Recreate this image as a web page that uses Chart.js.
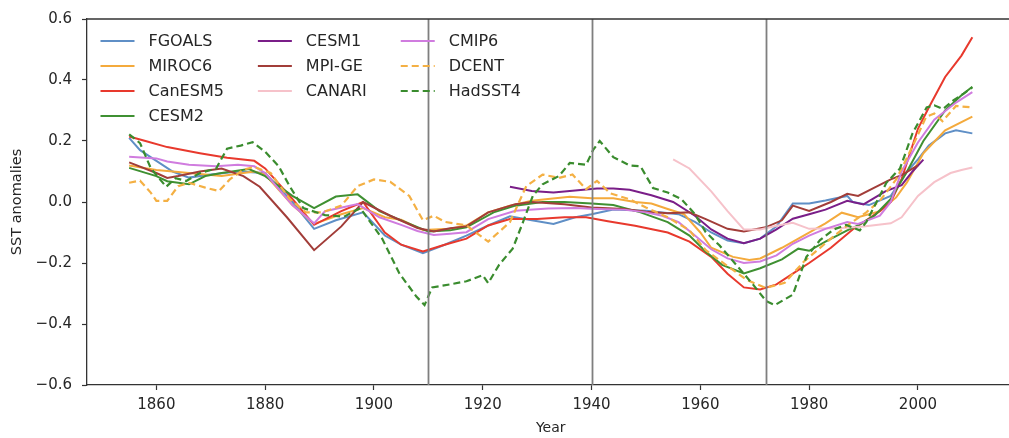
<!DOCTYPE html>
<html>
<head>
<meta charset="utf-8">
<script src="https://cdn.jsdelivr.net/npm/chart.js@4/dist/chart.umd.min.js"></script>
<style>
  html, body { margin: 0; padding: 0; background: #ffffff; overflow: hidden; }
  #wrap { position: absolute; left: 0; top: 0; width: 1020px; height: 438px; }
</style>
</head>
<body>
<div id="wrap"><canvas id="chart"></canvas></div>
<script>
// ---- SST anomaly series (year, anomaly) ----
const yearsFGOALS = [1855,1857,1860,1863,1866,1870,1875,1880,1885,1889,1893,1898,1902,1905,1909,1913,1917,1921,1925,1929,1933,1937,1940,1944,1950,1956,1959,1962,1965,1968,1971,1974,1977,1980,1983,1987,1988,1991,1995,1998,2000,2002,2005,2007,2010];
const sstFGOALS = [0.21,0.17,0.135,0.1,0.08,0.09,0.1,0.095,0.0,-0.088,-0.06,-0.034,-0.11,-0.14,-0.168,-0.14,-0.11,-0.077,-0.047,-0.06,-0.072,-0.05,-0.04,-0.025,-0.029,-0.04,-0.065,-0.1,-0.126,-0.135,-0.12,-0.08,-0.005,-0.005,0.005,0.02,0.0,-0.01,0.02,0.1,0.14,0.185,0.225,0.235,0.225];

const yearsMIROC6 = [1855,1860,1866,1872,1878,1880,1885,1889,1894,1898,1902,1905,1909,1914,1917,1921,1925,1929,1932,1936,1940,1944,1948,1951,1954,1957,1960,1962,1966,1969,1971,1975,1979,1983,1986,1989,1993,1996,1998,2001,2005,2010];
const sstMIROC6 = [0.12,0.105,0.095,0.085,0.1,0.09,-0.01,-0.072,-0.04,-0.02,-0.05,-0.058,-0.092,-0.088,-0.077,-0.034,-0.012,0.004,0.01,0.017,0.012,0.012,0.0,-0.005,-0.023,-0.04,-0.1,-0.15,-0.18,-0.19,-0.185,-0.15,-0.11,-0.07,-0.035,-0.05,-0.03,0.015,0.065,0.16,0.235,0.28];

const yearsCanESM5 = [1855,1858,1862,1868,1873,1878,1880,1885,1889,1894,1898,1902,1905,1909,1913,1917,1921,1925,1930,1935,1939,1943,1948,1954,1958,1962,1965,1968,1971,1974,1977,1980,1984,1988,1993,1995,1997,2000,2002,2005,2008,2010];
const sstCanESM5 = [0.215,0.2,0.18,0.16,0.145,0.135,0.11,0.01,-0.075,-0.03,0.0,-0.1,-0.14,-0.162,-0.14,-0.12,-0.077,-0.056,-0.056,-0.05,-0.05,-0.063,-0.078,-0.1,-0.13,-0.18,-0.235,-0.28,-0.287,-0.27,-0.235,-0.2,-0.15,-0.09,-0.03,0.0,0.075,0.24,0.31,0.41,0.48,0.54];

const yearsCESM2 = [1855,1860,1862,1866,1869,1872,1877,1880,1885,1889,1893,1897,1901,1905,1910,1914,1917,1922,1926,1931,1935,1940,1944,1949,1954,1958,1961,1964,1968,1971,1975,1978,1980,1983,1987,1989,1992,1995,1998,2001,2005,2008,2010];
const sstCESM2 = [0.112,0.085,0.068,0.058,0.085,0.095,0.108,0.085,0.02,-0.02,0.018,0.025,-0.03,-0.06,-0.097,-0.093,-0.083,-0.034,-0.012,0.0,0.0,-0.005,-0.01,-0.034,-0.066,-0.11,-0.163,-0.206,-0.234,-0.217,-0.188,-0.153,-0.16,-0.13,-0.093,-0.077,-0.045,0.01,0.1,0.2,0.3,0.35,0.378];

const yearsCESM1 = [1925,1929,1933,1937,1941,1944,1947,1951,1955,1959,1962,1965,1968,1971,1974,1977,1980,1983,1987,1990,1994,1997,1999,2001];
const sstCESM1 = [0.05,0.036,0.031,0.038,0.044,0.044,0.04,0.022,0.0,-0.045,-0.09,-0.12,-0.135,-0.12,-0.09,-0.055,-0.04,-0.025,0.004,-0.008,0.035,0.055,0.1,0.139];

const yearsMPIGE = [1855,1860,1862,1864,1868,1872,1876,1879,1884,1889,1894,1898,1903,1908,1911,1914,1917,1921,1926,1929,1935,1940,1946,1950,1954,1958,1961,1965,1968,1972,1975,1977,1980,1984,1987,1989,1992,1995,1997,2000];
const sstMPIGE = [0.13,0.095,0.079,0.085,0.1,0.11,0.085,0.05,-0.05,-0.158,-0.08,0.0,-0.045,-0.085,-0.097,-0.086,-0.08,-0.034,-0.007,0.0,-0.007,-0.018,-0.023,-0.032,-0.037,-0.034,-0.056,-0.088,-0.097,-0.083,-0.06,-0.012,-0.029,0.0,0.027,0.02,0.047,0.074,0.088,0.12];

const yearsCANARI = [1955,1958,1962,1965,1968,1971,1974,1977,1980,1986,1990,1995,1997,2000,2003,2006,2008,2010];
const sstCANARI = [0.14,0.11,0.035,-0.03,-0.09,-0.09,-0.078,-0.068,-0.088,-0.085,-0.08,-0.07,-0.05,0.02,0.065,0.095,0.105,0.113];

const yearsCMIP6 = [1855,1860,1862,1866,1871,1875,1878,1880,1885,1889,1891,1897,1901,1905,1908,1911,1914,1917,1921,1926,1932,1937,1941,1946,1950,1953,1956,1959,1962,1965,1968,1971,1974,1977,1980,1983,1987,1989,1993,1995,1997,2000,2003,2007,2010];
const sstCMIP6 = [0.148,0.143,0.133,0.122,0.117,0.122,0.117,0.095,-0.01,-0.07,-0.03,-0.007,-0.05,-0.075,-0.095,-0.108,-0.104,-0.099,-0.056,-0.029,-0.021,-0.02,-0.023,-0.025,-0.034,-0.045,-0.066,-0.11,-0.155,-0.185,-0.2,-0.195,-0.175,-0.137,-0.11,-0.088,-0.066,-0.072,-0.045,0.0,0.1,0.195,0.27,0.326,0.36];

const yearsDCENT = [1855,1857,1859,1860,1862,1864,1866,1869,1871.5,1873.5,1876,1878,1881,1884.5,1887.5,1890.5,1894,1897,1900,1903,1906.5,1909,1911,1913,1917,1921,1925,1928,1931,1934,1936.5,1939,1941,1943.5,1947,1950,1954,1958,1961,1965,1968.5,1972,1975.5,1979,1984,1987,1990.5,1993,1996,1999,2001.5,2003,2004.5,2007,2010];
const sstDCENT = [0.063,0.07,0.03,0.004,0.004,0.052,0.063,0.047,0.036,0.074,0.106,0.115,0.095,0.01,-0.034,-0.034,-0.012,0.052,0.074,0.066,0.02,-0.06,-0.045,-0.065,-0.077,-0.13,-0.066,0.052,0.09,0.079,0.09,0.042,0.069,0.028,0.009,-0.018,-0.05,-0.093,-0.158,-0.21,-0.255,-0.282,-0.265,-0.196,-0.12,-0.077,-0.034,0.004,0.074,0.182,0.279,0.29,0.265,0.315,0.31];

const yearsHadSST4 = [1855,1857,1859,1861.8,1863.5,1865.5,1868,1871,1873,1875.5,1877.7,1880,1882.5,1884.5,1887,1891,1894.5,1897.5,1901.5,1904.7,1907.8,1909.3,1910.7,1914,1917,1920,1921,1923,1925.5,1927.4,1929.2,1931,1934,1936,1939,1940.3,1941.5,1944,1947,1949,1951.3,1954,1956.5,1959,1961,1963.5,1966.6,1969.7,1972.1,1973.7,1977,1979.5,1982,1984.5,1986.8,1989.3,1990.5,1992.4,1994.2,1996.7,1999,2001.6,2003,2004.6,2006.5,2008.3,2010];
const sstHadSST4 = [0.222,0.193,0.11,0.05,0.078,0.069,0.095,0.11,0.175,0.185,0.196,0.165,0.117,0.052,-0.02,-0.043,-0.048,-0.02,-0.12,-0.235,-0.31,-0.338,-0.28,-0.27,-0.26,-0.24,-0.266,-0.206,-0.153,-0.066,0.02,0.058,0.085,0.128,0.122,0.171,0.2,0.147,0.12,0.117,0.046,0.031,0.01,-0.04,-0.099,-0.142,-0.206,-0.271,-0.325,-0.338,-0.304,-0.18,-0.125,-0.09,-0.075,-0.093,-0.066,0.0,0.063,0.11,0.225,0.31,0.317,0.305,0.333,0.354,0.376];

// ---- axes ----
const xTickYears = [1860, 1880, 1900, 1920, 1940, 1960, 1980, 2000];
const yTickValues = [-0.6, -0.4, -0.2, 0.0, 0.2, 0.4, 0.6];
const markerYears = [1910, 1940, 1972];

// ---- series styling ----
const seriesDefs = [
  { label: 'FGOALS',  years: yearsFGOALS,  values: sstFGOALS,  color: '#5f8fc6', dash: [] },
  { label: 'MIROC6',  years: yearsMIROC6,  values: sstMIROC6,  color: '#f4aa3c', dash: [] },
  { label: 'CanESM5', years: yearsCanESM5, values: sstCanESM5, color: '#e8392d', dash: [] },
  { label: 'CESM2',   years: yearsCESM2,   values: sstCESM2,   color: '#3f9032', dash: [] },
  { label: 'CESM1',   years: yearsCESM1,   values: sstCESM1,   color: '#7a1e88', dash: [] },
  { label: 'MPI-GE',  years: yearsMPIGE,   values: sstMPIGE,   color: '#a23d39', dash: [] },
  { label: 'CANARI',  years: yearsCANARI,  values: sstCANARI,  color: '#f6c2ca', dash: [] },
  { label: 'CMIP6',   years: yearsCMIP6,   values: sstCMIP6,   color: '#d07cdf', dash: [] },
  { label: 'DCENT',   years: yearsDCENT,   values: sstDCENT,   color: '#f4b044', dash: [7, 4] },
  { label: 'HadSST4', years: yearsHadSST4, values: sstHadSST4, color: '#3a8c2e', dash: [7, 4] }
];

const datasets = seriesDefs.map((s, i) => ({
  label: s.label,
  data: s.years.map((yr, k) => ({ x: yr, y: s.values[k] })),
  borderColor: s.color,
  backgroundColor: s.color,
  borderWidth: s.dash.length ? 2.2 : 2,
  borderDash: s.dash,
  pointRadius: 0,
  tension: 0,
  fill: false,
  order: seriesDefs.length - i
}));

const TEXT = '#262626';
const FONT = 'DejaVu Sans';

// vertical reference lines and the plot frame
const markerPlugin = {
  id: 'markerLines',
  afterDatasetsDraw(chart) {
    const { ctx, chartArea: a, scales: { x } } = chart;
    ctx.save();
    ctx.strokeStyle = '#7f7f7f';
    ctx.lineWidth = 1.8;
    markerYears.forEach(yr => {
      const px = Math.round(x.getPixelForValue(yr)) + 0.5;
      ctx.beginPath();
      ctx.moveTo(px, a.top);
      ctx.lineTo(px, a.bottom);
      ctx.stroke();
    });
    ctx.strokeStyle = '#333333';
    ctx.lineWidth = 1.3;
    ctx.beginPath();
    ctx.moveTo(a.left, a.top);
    ctx.lineTo(a.right, a.top);
    ctx.lineTo(a.right, a.bottom);
    ctx.stroke();
    ctx.restore();
  }
};

// in-plot legend: three columns, filled column by column
const legendPlugin = {
  id: 'inPlotLegend',
  afterDraw(chart) {
    const { ctx, chartArea: a } = chart;
    const fontSize = 16;
    const handle = 34, pad = 14, colGap = 34, rowH = 25;
    const rowsPerCol = [4, 3, 3];
    ctx.save();
    ctx.font = fontSize + 'px "' + FONT + '"';
    ctx.textBaseline = 'middle';
    let idx = 0;
    let colX = a.left + 13.5;
    rowsPerCol.forEach(n => {
      let maxW = 0;
      for (let r = 0; r < n; r++) {
        const ds = chart.data.datasets[idx + r];
        maxW = Math.max(maxW, ctx.measureText(ds.label).width);
      }
      for (let r = 0; r < n; r++) {
        const ds = chart.data.datasets[idx + r];
        const y = a.top + 22 + r * rowH;
        ctx.strokeStyle = ds.borderColor;
        ctx.lineWidth = ds.borderWidth;
        ctx.setLineDash(ds.borderDash || []);
        ctx.beginPath();
        ctx.moveTo(colX, y);
        ctx.lineTo(colX + handle, y);
        ctx.stroke();
        ctx.setLineDash([]);
        ctx.fillStyle = TEXT;
        ctx.fillText(ds.label, colX + handle + pad, y + 1);
      }
      idx += n;
      colX += handle + pad + maxW + colGap;
    });
    ctx.restore();
  }
};

new Chart(document.getElementById('chart'), {
  type: 'line',
  data: { datasets },
  options: {
    responsive: true,
    maintainAspectRatio: false,
    animation: false,
    events: [],
    layout: { padding: { left: 0, right: 5.5, top: 14, bottom: 0 } },
    plugins: { legend: { display: false }, tooltip: { enabled: false } },
    scales: {
      x: {
        type: 'linear',
        min: 1847.25,
        max: 2017.75,
        afterBuildTicks: s => { s.ticks = xTickYears.map(v => ({ value: v })); },
        afterFit: s => { s.height = 53; },
        ticks: {
          callback: v => String(v),
          color: TEXT,
          font: { family: FONT, size: 15 },
          padding: 6,
          maxRotation: 0
        },
        grid: { drawOnChartArea: false, drawTicks: true, tickLength: 5, tickWidth: 1.2, tickColor: '#333333' },
        border: { display: true, color: '#333333', width: 1.3 },
        title: {
          display: true, text: 'Year', color: TEXT,
          font: { family: FONT, size: 14 },
          padding: { top: 0, bottom: 1.5 }
        }
      },
      y: {
        type: 'linear',
        min: -0.6,
        max: 0.6,
        afterBuildTicks: s => { s.ticks = yTickValues.map(v => ({ value: v })); },
        afterFit: s => { s.width = 87; },
        ticks: {
          callback: v => v.toFixed(1).replace('-', '\u2212'),
          color: TEXT,
          font: { family: FONT, size: 15 },
          padding: 10
        },
        grid: { drawOnChartArea: false, drawTicks: true, tickLength: 5, tickWidth: 1.2, tickColor: '#333333' },
        border: { display: true, color: '#333333', width: 1.3 },
        title: {
          display: true, text: 'SST anomalies', color: TEXT,
          font: { family: FONT, size: 14.5 },
          padding: { top: 9, bottom: 0 }
        }
      }
    }
  },
  plugins: [markerPlugin, legendPlugin]
});
</script>
</body>
</html>
